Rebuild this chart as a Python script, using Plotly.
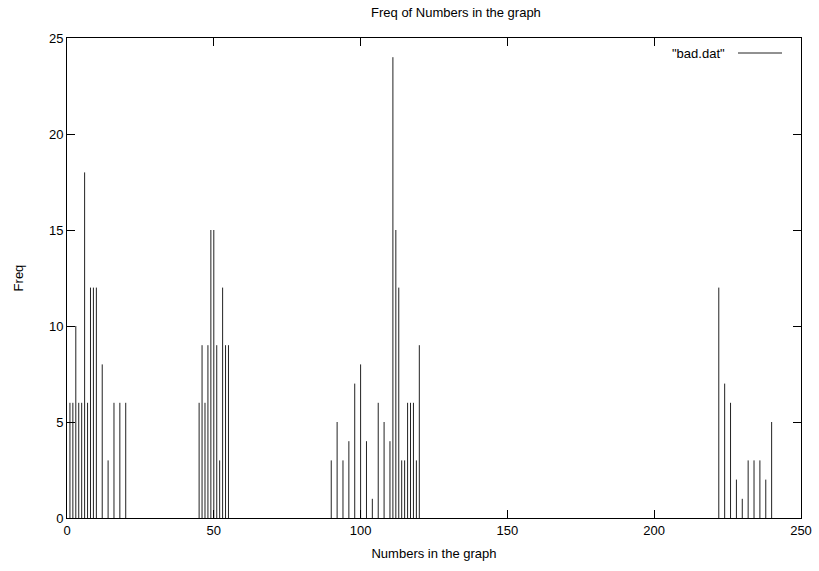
import plotly.graph_objects as go

# Data (value -> frequency)
numbers = [1, 2, 3, 4, 5, 6, 7, 8, 9, 10, 12, 14, 16, 18, 20,
           45, 46, 47, 48, 49, 50, 51, 52, 53, 54, 55,
           90, 92, 94, 96, 98, 100, 102, 104, 106, 108, 110, 111, 112, 113,
           114, 115, 116, 117, 118, 119, 120,
           222, 224, 226, 228, 230, 232, 234, 236, 238, 240]
freq = [6, 6, 10, 6, 6, 18, 6, 12, 12, 12, 8, 3, 6, 6, 6,
        6, 9, 6, 9, 15, 15, 9, 3, 12, 9, 9,
        3, 5, 3, 4, 7, 8, 4, 1, 6, 5, 4, 24, 15, 12,
        3, 3, 6, 6, 6, 3, 9,
        12, 7, 6, 2, 1, 3, 3, 3, 2, 5]

x_ticks = [0, 50, 100, 150, 200, 250]
y_ticks = [0, 5, 10, 15, 20, 25]

# impulses: vertical segments from 0 to value
xs, ys = [], []
for n, f in zip(numbers, freq):
    xs += [n, n, None]
    ys += [0, f, None]

fig = go.Figure()
fig.add_trace(go.Scatter(x=xs, y=ys, mode="lines",
                         line=dict(color="#222222", width=1),
                         name='"bad.dat"', showlegend=False,
                         hoverinfo="skip"))

FAM = "Liberation Sans, Arial, sans-serif"
FS = 13
font = dict(family=FAM, size=FS, color="black")

W, H = 819, 571
L, R, T, B = 67, 18, 38, 53
PW = W - L - R

fig.update_layout(
    width=W, height=H,
    margin=dict(l=L, r=R, t=T, b=B, autoexpand=False),
    paper_bgcolor="white", plot_bgcolor="white",
    font=font,
    title=dict(text="Freq of Numbers in the graph", x=(L + PW / 2) / W,
               xref="paper", xanchor="center",
               y=1 - 12 / H, yanchor="middle", font=font),
    xaxis=dict(range=[0, 250], tickvals=x_ticks, ticks="inside", ticklen=8,
               showline=True, linecolor="black", linewidth=1, mirror="ticks",
               showgrid=False, zeroline=False, tickcolor="black",
               tickfont=font, automargin=False,
               title=dict(text="Numbers in the graph", standoff=12, font=font)),
    yaxis=dict(range=[0, 25], tickvals=y_ticks, ticks="inside", ticklen=8,
               showline=True, linecolor="black", linewidth=1, mirror="ticks",
               showgrid=False, zeroline=False, tickcolor="black",
               tickfont=font, automargin=False,
               title=dict(text="Freq", standoff=22, font=font)),
    showlegend=False,
)

# gnuplot-style key: text then line sample, top right
ky = 1 - 15 / 480
fig.add_annotation(xref="paper", yref="paper", x=(727 - 67) / 734, y=ky,
                   text='"bad.dat"', showarrow=False, xanchor="right",
                   yanchor="middle", font=font)
fig.add_shape(type="line", xref="paper", yref="paper",
              x0=(738 - 67) / 734, x1=(782 - 67) / 734, y0=ky, y1=ky,
              line=dict(color="#222222", width=1))

fig.write_html("out.html", config={"displayModeBar": False},
               post_script="document.body.style.margin='0';"
                           "document.body.style.overflow='hidden';")
